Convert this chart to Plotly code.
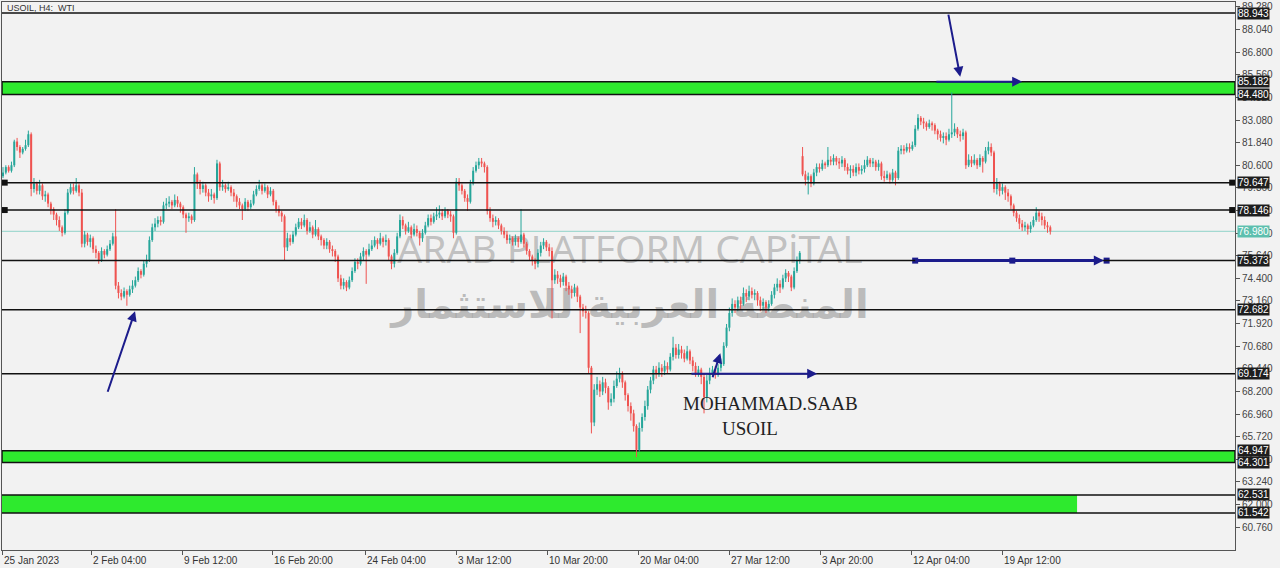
import plotly.graph_objects as go

# ---------------- data (USOIL H4) ----------------
CLOSE = [
    80.2, 80.5, 80.3, 80.6, 81.9, 81.6, 81.3, 81.5, 81.7, 82.3,
    79.3, 79.6, 79.2, 79.5, 78.9, 79.0, 78.5, 78.2, 77.9, 77.6,
    77.2, 76.9, 78.0, 79.1, 79.4, 79.2, 79.5, 79.1, 76.3, 76.8,
    76.4, 76.6, 76.0, 75.8, 75.4, 75.9, 75.7, 76.0, 76.3, 76.7,
    74.0, 73.6, 73.4, 73.7, 73.5, 73.8, 74.0, 74.3, 74.8, 74.6,
    75.2, 75.4, 76.5, 77.2, 77.4, 77.6, 77.5, 78.4, 78.5, 78.6,
    78.4, 78.7, 78.5, 78.3, 77.9, 77.7, 77.8, 77.6, 80.1, 79.6,
    79.3, 79.5, 79.1, 78.9, 79.0, 78.8, 80.7, 79.4, 79.5, 79.3,
    79.4, 79.1, 78.9, 78.6, 78.4, 78.2, 78.6, 78.3, 78.5, 79.0,
    79.3, 79.5, 79.2, 79.4, 79.0, 79.2, 78.6, 78.2, 78.0, 77.8,
    76.1, 76.6, 76.4, 76.8, 77.2, 77.5, 77.3, 77.6, 77.0, 77.2,
    76.8, 77.1, 76.7, 76.5, 76.2, 76.4, 76.0, 75.9, 75.6, 74.4,
    74.0, 74.2, 73.9, 74.3, 74.8, 75.3, 75.2, 75.6, 75.9, 75.7,
    76.0, 76.2, 76.5, 76.3, 76.6, 76.4, 76.5, 75.6, 75.2, 75.8,
    76.7, 77.6, 77.3, 77.0, 77.2, 76.8, 77.1, 76.9, 76.6, 76.9,
    77.3, 77.7, 77.5, 77.8, 77.9, 78.0, 77.8, 78.1, 77.9, 77.8,
    76.9, 79.7, 79.5, 79.2, 78.8, 78.6, 79.6, 80.3, 80.6, 80.8,
    80.7, 80.5, 78.1, 77.7, 77.5, 77.6, 77.3, 77.0, 76.8, 76.5,
    76.6, 76.4, 76.6, 76.4, 76.8, 76.3, 75.9, 75.6, 75.4, 75.2,
    75.8, 76.2, 76.4, 76.1, 75.9, 74.3, 74.6, 74.4, 74.2, 74.5,
    74.0, 73.8, 73.6, 73.9, 73.4, 72.8, 72.6, 72.5, 69.5, 66.5,
    68.3, 68.6, 68.2, 68.7, 68.4, 67.6, 67.8, 68.5, 68.9, 69.2,
    68.7, 68.0, 67.4, 67.0, 66.3, 65.0, 66.2, 66.8, 67.4, 68.3,
    68.8, 69.4, 69.2, 69.5, 69.3, 69.6, 69.4, 70.1, 70.6, 70.2,
    70.5, 70.3, 70.0, 70.4, 69.9, 69.6, 69.2, 69.4, 69.0, 67.9,
    68.8, 69.2, 69.4, 69.1, 69.5, 69.7, 70.7, 71.7, 72.5, 73.0,
    72.8, 73.2, 73.0, 73.6, 73.4, 73.7, 73.5, 73.6, 73.2, 72.9,
    73.1, 72.8, 73.0, 73.5, 73.9, 74.1, 73.9, 74.4, 74.7, 74.5,
    73.9, 74.8, 75.4, 75.8, 80.1, 79.8, 80.0, 79.6, 80.2, 80.5,
    80.4, 80.7, 80.6, 80.9, 80.8, 81.0, 80.8, 80.7, 80.9, 80.5,
    80.3, 80.4, 80.2, 80.5, 80.3, 80.4, 80.6, 80.9, 80.7, 80.8,
    80.5, 80.7, 80.0, 79.9, 80.1, 79.8, 80.2, 79.9, 81.4, 81.5,
    81.4, 81.6, 81.5, 81.7, 82.6, 83.2, 83.0, 82.9, 82.7, 82.9,
    82.8, 82.5, 82.3, 82.1, 82.2, 82.0, 82.3, 82.4, 82.6, 82.3,
    82.2, 82.4, 80.6, 80.9, 80.7, 80.9, 80.6, 81.0, 80.8, 81.4,
    81.6, 81.3, 79.3, 79.6, 79.2, 79.4, 79.1, 78.9, 78.4, 78.0,
    77.7, 77.4, 77.2, 77.3, 77.1, 77.3, 77.6, 78.0, 77.8, 77.6,
    77.3, 77.2, 76.98,
]
HIGH = [
    80.5, 80.6, 80.6, 80.8, 82.0, 82.1, 81.7, 81.6, 82.0, 82.5,
    82.4, 79.9, 79.7, 79.8, 79.6, 79.2, 79.1, 78.6, 78.3, 78.0,
    77.8, 77.3, 78.2, 79.3, 79.6, 79.6, 79.9, 79.6, 79.3, 77.0,
    76.9, 76.8, 76.7, 76.2, 75.9, 76.1, 76.0, 76.2, 76.5, 76.9,
    78.2, 74.2, 73.8, 73.9, 73.8, 74.0, 74.3, 74.5, 75.0, 74.9,
    75.4, 75.7, 76.7, 77.4, 77.7, 77.8, 77.8, 78.6, 78.8, 78.9,
    78.7, 79.0, 78.9, 78.6, 78.4, 78.0, 78.0, 77.9, 80.5, 80.2,
    79.8, 79.7, 79.6, 79.3, 79.3, 79.1, 80.9, 80.8, 79.8, 79.6,
    79.7, 79.5, 79.3, 79.0, 78.8, 78.5, 78.8, 78.7, 78.7, 79.2,
    79.5, 79.8, 79.6, 79.6, 79.5, 79.4, 79.3, 78.7, 78.4, 78.1,
    77.9, 76.9, 76.8, 77.0, 77.4, 77.7, 77.7, 77.9, 77.7, 77.5,
    77.3, 77.6, 77.2, 76.8, 76.6, 76.6, 76.5, 76.2, 76.0, 75.7,
    74.6, 74.4, 74.3, 74.5, 75.0, 75.5, 75.5, 75.8, 76.1, 76.0,
    76.3, 76.5, 76.7, 76.6, 76.9, 76.7, 76.8, 76.6, 75.7, 76.0,
    76.9, 77.9, 77.8, 77.4, 77.5, 77.3, 77.4, 77.3, 77.0, 77.1,
    77.5, 77.9, 77.9, 78.0, 78.3, 78.4, 78.2, 78.3, 78.2, 78.1,
    77.9, 79.9, 79.9, 79.6, 79.3, 79.0, 79.8, 80.5, 80.8, 81.0,
    81.0, 80.8, 80.6, 78.3, 77.9, 77.8, 77.7, 77.4, 77.2, 77.0,
    76.8, 76.7, 76.8, 76.7, 78.2, 76.9, 76.4, 76.0, 75.7, 75.5,
    76.0, 76.4, 76.6, 76.5, 76.3, 76.1, 74.9, 74.8, 74.6, 74.7,
    74.6, 74.2, 74.0, 74.1, 74.0, 73.5, 73.0, 72.9, 72.6, 69.6,
    68.6, 69.0, 68.8, 69.0, 68.9, 68.5, 68.1, 68.8, 69.3, 69.5,
    69.3, 68.8, 68.1, 67.6, 67.2, 66.4, 66.5, 67.0, 67.7, 68.5,
    69.0, 69.6, 69.6, 69.8, 69.7, 69.9, 69.8, 70.3, 71.2, 70.8,
    70.8, 70.7, 70.5, 70.7, 70.5, 70.1, 69.8, 69.6, 69.5, 69.2,
    69.1, 69.5, 69.6, 69.6, 69.7, 70.0, 70.9, 71.9, 72.8, 73.3,
    73.2, 73.4, 73.4, 73.9, 73.8, 74.0, 73.9, 73.8, 73.7, 73.4,
    73.3, 73.2, 73.2, 73.7, 74.1, 74.4, 74.3, 74.6, 74.9, 74.8,
    74.6, 75.0, 75.6, 75.9, 81.6, 80.3, 80.2, 80.1, 80.4, 80.7,
    80.7, 80.9, 80.8, 81.6, 81.1, 81.2, 81.1, 81.0, 81.1, 81.0,
    80.7, 80.6, 80.6, 80.7, 80.7, 80.6, 80.9, 81.1, 81.0, 81.0,
    80.9, 80.9, 80.8, 80.3, 80.3, 80.2, 80.4, 80.3, 81.6, 81.7,
    81.7, 81.8, 81.8, 81.9, 82.8, 83.4, 83.3, 83.2, 83.0, 83.1,
    83.0, 82.9, 82.6, 82.5, 82.4, 82.4, 82.6, 84.6, 82.9, 82.7,
    82.5, 82.6, 82.5, 81.2, 81.1, 81.2, 81.0, 81.2, 81.1, 81.6,
    81.9, 81.8, 81.4, 79.9, 79.7, 79.6, 79.5, 79.3, 79.0, 78.5,
    78.1, 77.9, 77.6, 77.5, 77.4, 77.5, 77.8, 78.3, 78.1, 78.0,
    77.8, 77.5, 77.3,
]
LOW = [
    79.9, 80.1, 80.2, 80.2, 80.5, 81.4, 81.0, 81.2, 81.4, 81.6,
    78.9, 79.1, 79.0, 79.0, 78.7, 78.6, 78.3, 77.9, 77.6, 77.3,
    77.0, 76.7, 76.8, 77.9, 79.0, 79.0, 79.1, 78.9, 76.1, 76.1,
    76.2, 76.1, 75.8, 75.5, 75.2, 75.3, 75.5, 75.6, 75.9, 76.2,
    73.8, 73.3, 73.2, 73.3, 72.9, 73.4, 73.6, 73.9, 74.2, 74.4,
    74.5, 75.0, 75.3, 76.4, 77.0, 77.2, 77.3, 77.4, 78.2, 78.3,
    78.2, 78.3, 78.3, 78.0, 77.7, 76.9, 77.5, 77.4, 77.5, 79.3,
    79.0, 79.1, 78.9, 78.6, 78.7, 78.5, 78.7, 79.2, 79.2, 79.1,
    79.2, 78.9, 78.6, 78.3, 78.2, 77.6, 78.1, 78.1, 78.2, 78.4,
    78.9, 79.2, 79.0, 79.1, 78.8, 78.9, 78.4, 78.0, 77.8, 77.5,
    75.4, 75.9, 76.2, 76.3, 76.7, 77.1, 77.1, 77.2, 76.8, 76.9,
    76.6, 76.7, 76.5, 76.2, 76.0, 76.0, 75.8, 75.6, 75.3, 74.2,
    73.8, 73.8, 73.7, 73.8, 74.2, 74.7, 74.9, 75.1, 75.4, 74.1,
    75.6, 75.9, 76.1, 76.0, 76.2, 76.1, 76.2, 75.4, 74.9, 75.0,
    75.7, 76.6, 77.1, 76.8, 76.9, 76.6, 76.7, 76.7, 76.2, 76.4,
    76.8, 77.2, 77.3, 77.4, 77.6, 77.7, 77.6, 77.7, 77.7, 77.5,
    76.6, 76.8, 79.2, 79.0, 78.6, 78.1, 78.5, 79.5, 80.2, 80.4,
    80.5, 80.2, 77.9, 77.5, 77.2, 77.3, 77.1, 76.8, 76.6, 76.3,
    76.3, 76.2, 76.2, 76.1, 76.3, 76.1, 75.7, 75.4, 75.1, 74.9,
    75.0, 75.6, 76.0, 75.9, 75.6, 72.2, 74.1, 74.1, 73.9, 74.0,
    73.7, 73.5, 73.3, 73.4, 73.1, 71.4, 72.3, 72.2, 69.2, 65.9,
    66.3, 68.0, 67.9, 68.0, 68.1, 67.2, 67.4, 67.6, 68.4, 68.7,
    68.4, 67.7, 67.1, 66.6, 66.0, 64.6, 64.9, 66.0, 66.6, 67.2,
    68.1, 68.6, 68.9, 69.0, 69.0, 69.1, 69.2, 69.3, 69.9, 70.0,
    70.0, 70.0, 69.8, 69.9, 69.7, 69.3, 69.0, 69.0, 68.6, 67.0,
    67.6, 68.6, 69.0, 68.9, 69.0, 69.3, 69.6, 70.6, 71.5, 72.3,
    72.5, 72.6, 72.7, 72.9, 73.1, 73.2, 73.3, 73.2, 72.9, 72.6,
    72.7, 72.5, 72.6, 72.9, 73.3, 73.7, 73.6, 73.8, 74.2, 74.2,
    73.7, 73.8, 74.7, 75.2, 80.0, 79.5, 79.0, 79.4, 79.5, 80.0,
    80.2, 80.3, 80.4, 80.5, 80.6, 80.6, 80.6, 80.4, 80.5, 80.3,
    80.1, 79.9, 80.0, 80.0, 80.1, 80.1, 80.2, 80.5, 80.5, 80.5,
    80.3, 80.3, 79.8, 79.7, 79.8, 79.6, 79.7, 79.5, 79.8, 81.2,
    81.2, 81.3, 81.3, 81.4, 81.6, 82.5, 82.8, 82.6, 82.5, 82.6,
    82.5, 82.3, 82.0, 81.9, 81.8, 81.7, 81.9, 82.1, 82.2, 82.1,
    81.9, 82.0, 80.4, 80.5, 80.5, 80.6, 80.4, 80.5, 80.2, 80.7,
    81.2, 81.1, 79.1, 79.0, 78.9, 79.0, 78.7, 78.6, 78.2, 77.8,
    77.5, 77.1, 77.0, 77.0, 76.8, 76.9, 77.2, 77.5, 77.5, 77.3,
    77.1, 76.9, 76.8,
]
FIRST_OPEN = 80.0
GAP_OPENS = {284: 81.1}          # opening gap on the first April bar

LEVEL_LINES = [88.943, 79.647, 78.146, 75.373, 72.682, 69.174]
ZONES_FULL = [(85.182, 84.480), (64.947, 64.301)]
ZONE_PARTIAL = (62.531, 61.542)
CURRENT_PRICE = 76.980
PRICE_LABELS = ["88.943", "85.182", "84.480", "79.647", "78.146", "75.373",
                "72.682", "69.174", "64.947", "64.301", "62.531", "61.542"]

Y_TICK_TEXT = ["60.760", "62.000", "63.240", "64.480", "65.720", "66.960",
               "68.200", "69.440", "70.680", "71.920", "73.160", "74.400",
               "75.640", "76.880", "78.120", "79.360", "80.600", "81.840",
               "83.080", "84.320", "85.560", "86.800", "88.040", "89.280"]
X_TICK_TEXT = ["25 Jan 2023", "2 Feb 04:00", "9 Feb 12:00", "16 Feb 20:00",
               "24 Feb 04:00", "3 Mar 12:00", "10 Mar 20:00", "20 Mar 04:00",
               "27 Mar 12:00", "3 Apr 20:00", "12 Apr 04:00", "19 Apr 12:00"]
X_TICK_BARS = [-0.36, 31.3, 63.6, 95.6, 128.6, 160.9, 193.3, 225.6,
               257.9, 290.2, 322.6, 354.9]

# ---------------- styling ----------------
BG = "#f2f2f2"
UP = "#26a69a"
DOWN = "#ef5350"
GREEN = "#2eea2e"
NAVY = "#1c1c8c"
X0, X1 = -0.36, 437.6
Y0, Y1 = 59.51, 89.55

N = min(len(CLOSE), len(HIGH), len(LOW))
opens = []
for i in range(N):
    if i in GAP_OPENS:
        opens.append(GAP_OPENS[i])
    elif i == 0:
        opens.append(FIRST_OPEN)
    else:
        opens.append(CLOSE[i - 1])

wick = {True: ([], []), False: ([], [])}
body = {True: ([], []), False: ([], [])}
for i in range(N):
    o, c = opens[i], CLOSE[i]
    up = c >= o
    hi = max(HIGH[i], o, c)
    lo = min(LOW[i], o, c)
    wick[up][0].extend([i, i, None])
    wick[up][1].extend([lo, hi, None])
    b0, b1 = min(o, c), max(o, c)
    if b1 - b0 < 0.05:
        b0 -= 0.025
        b1 += 0.025
    body[up][0].extend([i, i, None])
    body[up][1].extend([b0, b1, None])

fig = go.Figure()

# watermark (drawn first so candles overlay it)
fig.add_trace(go.Scatter(
    x=[222.7], y=[75.8], mode="text", text=["ARAB PLATFORM CAPiTAL"],
    textfont=dict(family="Noto Sans", size=39, color="rgba(150,150,150,0.55)"),
    hoverinfo="skip"))
fig.add_trace(go.Scatter(
    x=[222.7], y=[72.75], mode="text", text=["<b>المنصة العربية للاستثمار</b>"],
    textfont=dict(family="DejaVu Sans", size=40, color="rgba(150,150,150,0.6)"),
    hoverinfo="skip"))

for up in (True, False):
    col = UP if up else DOWN
    fig.add_trace(go.Scatter(x=wick[up][0], y=wick[up][1], mode="lines",
                             line=dict(color=col, width=1), hoverinfo="skip"))
for up in (True, False):
    col = UP if up else DOWN
    fig.add_trace(go.Scatter(x=body[up][0], y=body[up][1], mode="lines",
                             line=dict(color=col, width=2), hoverinfo="skip"))

shapes = []
# green zones
for top, bot in ZONES_FULL:
    shapes.append(dict(type="rect", xref="x", yref="y", x0=X0, x1=X1, y0=bot, y1=top,
                       fillcolor=GREEN, line=dict(color="#111", width=1.5), layer="below"))
shapes.append(dict(type="rect", xref="x", yref="y", x0=X0, x1=381.5,
                   y0=ZONE_PARTIAL[1], y1=ZONE_PARTIAL[0],
                   fillcolor=GREEN, line=dict(width=0), layer="below"))
for lv in ZONE_PARTIAL:
    shapes.append(dict(type="line", xref="x", yref="y", x0=X0, x1=X1, y0=lv, y1=lv,
                       line=dict(color="#111", width=1.5)))
for lv in LEVEL_LINES:
    shapes.append(dict(type="line", xref="x", yref="y", x0=X0, x1=X1, y0=lv, y1=lv,
                       line=dict(color="#111", width=1.5)))
shapes.append(dict(type="line", xref="x", yref="y", x0=X0, x1=X1,
                   y0=CURRENT_PRICE, y1=CURRENT_PRICE,
                   line=dict(color="#8fd3c8", width=1), layer="below"))
# navy horizontal segment on 75.373
shapes.append(dict(type="line", xref="x", yref="y", x0=324.0, x1=390.0,
                   y0=75.373, y1=75.373, line=dict(color=NAVY, width=3)))

fig.add_trace(go.Scatter(x=[324.0, 358.5, 392.0], y=[75.373] * 3, mode="markers",
                         marker=dict(symbol="square", size=6, color=NAVY),
                         hoverinfo="skip"))
fig.add_trace(go.Scatter(x=[0.6, 0.6, X1 - 1.0, X1 - 1.0],
                         y=[79.647, 78.146, 79.647, 78.146], mode="markers",
                         marker=dict(symbol="square", size=6, color="#111"),
                         hoverinfo="skip"))

ann = []
# right-side price boxes
for t in PRICE_LABELS:
    ann.append(dict(xref="paper", yref="y", x=1, y=float(t), xanchor="left", xshift=2,
                    text=t, showarrow=False, bgcolor="#1e1e1e", borderpad=0,
                    font=dict(family="Liberation Sans", size=10, color="#ffffff")))
ann.append(dict(xref="paper", yref="y", x=1, y=CURRENT_PRICE, xanchor="left", xshift=2,
                text=f"{CURRENT_PRICE:.3f}", showarrow=False, bgcolor="#5dbfae",
                borderpad=0, font=dict(family="Liberation Sans", size=10, color="#ffffff")))
# x tick labels (left aligned)
for xb, t in zip(X_TICK_BARS, X_TICK_TEXT):
    ann.append(dict(xref="x", yref="paper", x=xb, y=0, xanchor="left", yanchor="top",
                    xshift=0, yshift=-3, text=t, showarrow=False,
                    font=dict(family="Liberation Sans", size=10, color="#333")))
# chart title
ann.append(dict(xref="paper", yref="paper", x=0, y=1, xanchor="left", yanchor="top",
                xshift=3, yshift=1, text="USOIL, H4:  WTI", showarrow=False,
                font=dict(family="Liberation Sans", size=9, color="#333")))
# arrows
def arrow(x_tail, y_tail, x_head, y_head, w=2):
    return dict(xref="x", yref="y", axref="x", ayref="y", x=x_head, y=y_head,
                ax=x_tail, ay=y_tail, text="", showarrow=True, arrowhead=2,
                arrowsize=1, arrowwidth=w, arrowcolor=NAVY)
ann.append(arrow(37.0, 68.1, 46.9, 72.6))
ann.append(arrow(335.7, 88.94, 340.0, 85.45))
ann.append(arrow(331.0, 85.182, 362.0, 85.182))
ann.append(arrow(385.0, 75.373, 391.0, 75.373))
ann.append(arrow(244.0, 69.174, 289.2, 69.174))
ann.append(arrow(251.9, 68.9, 254.8, 70.3))
# author text
ann.append(dict(xref="x", yref="y", x=272.5, y=67.55, text="MOHAMMAD.SAAB",
                showarrow=False, font=dict(family="Liberation Serif", size=19, color="#222")))
ann.append(dict(xref="x", yref="y", x=265.5, y=66.19, text="USOIL",
                showarrow=False, font=dict(family="Liberation Serif", size=19, color="#222")))

fig.update_layout(
    width=1280, height=568, autosize=False,
    margin=dict(l=2, r=45, t=2, b=18),
    paper_bgcolor=BG, plot_bgcolor=BG, showlegend=False,
    shapes=shapes, annotations=ann,
    xaxis=dict(range=[X0, X1], showgrid=False, zeroline=False, showline=True,
               linecolor="#555", linewidth=1, mirror=True,
               tickvals=X_TICK_BARS, ticks="outside", ticklen=4, tickcolor="#555",
               showticklabels=False, fixedrange=True),
    yaxis=dict(range=[Y0, Y1], side="right", showgrid=False, zeroline=False,
               showline=True, linecolor="#555", linewidth=1, mirror=True,
               tickvals=[float(t) for t in Y_TICK_TEXT], ticktext=Y_TICK_TEXT,
               ticks="outside", ticklen=4, tickcolor="#555",
               tickfont=dict(family="Liberation Sans", size=10, color="#444"),
               fixedrange=True),
)

fig.write_html("out.html", include_plotlyjs=True,
               config={"displayModeBar": False},
               post_script="document.body.style.margin='0';document.body.style.background='#f2f2f2';")
